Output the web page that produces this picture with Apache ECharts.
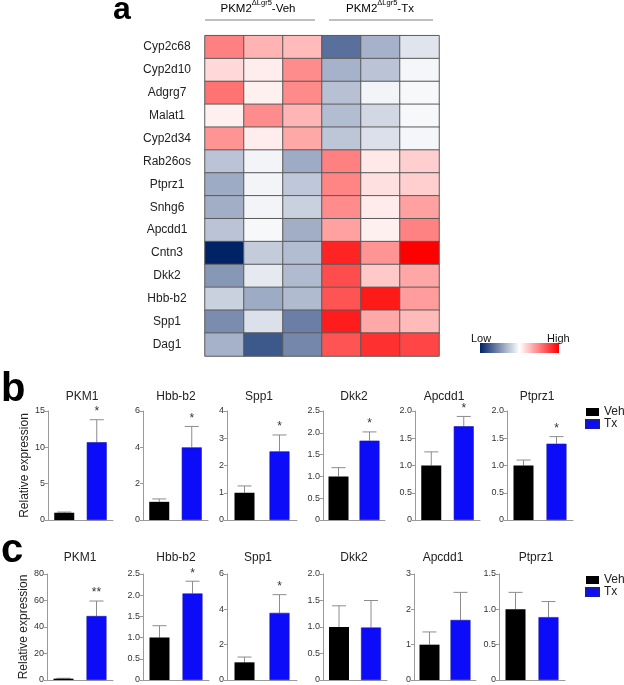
<!DOCTYPE html>
<html>
<head>
<meta charset="utf-8">
<title>PKM2 Lgr5 figure</title>
<script src="https://cdn.jsdelivr.net/npm/echarts@6/dist/echarts.min.js"></script>
<style>
  html, body { margin: 0; padding: 0; background: #fff; }
  #chart { width: 624px; height: 685px; }
</style>
</head>
<body>
<div id="chart"></div>
<script>
// panel a - heatmap
const genes = ['Cyp2c68', 'Cyp2d10', 'Adgrg7', 'Malat1', 'Cyp2d34', 'Rab26os', 'Ptprz1',
  'Snhg6', 'Apcdd1', 'Cntn3', 'Dkk2', 'Hbb-b2', 'Spp1', 'Dag1']
const samples = ['Veh-1', 'Veh-2', 'Veh-3', 'Tx-1', 'Tx-2', 'Tx-3']
const heatRows = [
  [0.50, 0.30, 0.27, -0.65, -0.35, -0.12],
  [0.15, 0.07, 0.45, -0.35, -0.27, -0.04],
  [0.55, 0.06, 0.46, -0.28, -0.05, -0.03],
  [0.06, 0.45, 0.29, -0.30, -0.18, -0.03],
  [0.42, 0.07, 0.34, -0.26, -0.14, -0.04],
  [-0.27, -0.05, -0.38, 0.50, 0.09, 0.19],
  [-0.38, -0.05, -0.25, 0.48, 0.12, 0.19],
  [-0.37, -0.05, -0.21, 0.45, 0.08, 0.37],
  [-0.27, -0.03, -0.37, 0.37, 0.06, 0.49],
  [-1.00, -0.23, -0.30, 0.86, 0.42, 1.00],
  [-0.47, -0.10, -0.31, 0.70, 0.21, 0.35],
  [-0.21, -0.38, -0.31, 0.67, 0.90, 0.39],
  [-0.52, -0.14, -0.58, 0.89, 0.34, 0.27],
  [-0.35, -0.76, -0.54, 0.67, 0.81, 0.73]
]

// panels b / c - qPCR bars
const qGenes = ['PKM1', 'Hbb-b2', 'Spp1', 'Dkk2', 'Apcdd1', 'Ptprz1']
const groups = ['Veh', 'Tx']

const bVeh = [1.0, 1.0, 1.0, 1.0, 1.0, 1.0]
const bVehTop = [1.1, 1.16, 1.25, 1.2, 1.25, 1.1]
const bTx = [10.7, 4.0, 2.52, 1.82, 1.72, 1.4]
const bTxTop = [13.8, 5.15, 3.12, 2.02, 1.9, 1.53]
const bMax = [15, 6, 4, 2.5, 2.0, 2.0]
const bStep = [5, 2, 1, 0.5, 0.5, 0.5]
const bStars = ['*', '*', '*', '*', '*', '*']

const cVeh = [1.0, 1.0, 1.0, 1.0, 1.0, 1.0]
const cVehTop = [1.3, 1.28, 1.3, 1.4, 1.36, 1.24]
const cTx = [48.3, 2.04, 3.8, 0.99, 1.7, 0.89]
const cTxTop = [59.6, 2.33, 4.83, 1.5, 2.48, 1.11]
const cMax = [80, 2.5, 6, 2.0, 3, 1.5]
const cStep = [20, 0.5, 2, 0.5, 1, 0.5]
const cStars = ['**', '*', '*', '', '', '']

const FONT = 'Liberation Sans, Arial, sans-serif'
const AXIS = '#9a9a9a'

const myChart = echarts.init(document.getElementById('chart'))

const grids = [{ left: 205, top: 35.7, width: 234, height: 320.3 }]
const xAxes = [{
  gridIndex: 0, type: 'category', data: samples,
  axisLine: { show: false }, axisTick: { show: false }, axisLabel: { show: false }
}]
const yAxes = [{
  gridIndex: 0, type: 'category', data: genes, inverse: true,
  axisLine: { show: false }, axisTick: { show: false },
  axisLabel: { fontSize: 12, color: '#222', fontFamily: FONT, align: 'center', margin: 38 }
}]
const heatData = []
heatRows.forEach((row, r) => {
  row.forEach((v, c) => heatData.push([c, r, v]))
})
const series = [{
  type: 'heatmap', xAxisIndex: 0, yAxisIndex: 0, data: heatData,
  itemStyle: { borderColor: '#5a5a5a', borderWidth: 1 },
  emphasis: { disabled: true }
}]
const titles = []

// layout of the 12 small bar charts
const panels = [
  {
    top: 411, height: 109, titleY: 391,
    left: [48, 143, 227, 323, 415, 507], width: [65, 65, 70, 62, 65, 66],
    titleX: [82, 176, 259, 354, 444, 537],
    veh: bVeh, vehTop: bVehTop, tx: bTx, txTop: bTxTop, max: bMax, step: bStep, stars: bStars
  },
  {
    top: 574, height: 106, titleY: 552,
    left: [47, 143, 227, 323, 414, 499], width: [66, 66, 70, 64, 62, 66],
    titleX: [80, 176, 258, 354, 443, 536],
    veh: cVeh, vehTop: cVehTop, tx: cTx, txTop: cTxTop, max: cMax, step: cStep, stars: cStars
  }
]

panels.forEach((p, pi) => {
  qGenes.forEach((g, i) => {
    const k = grids.length
    const step = p.step[i]
    grids.push({ left: p.left[i], top: p.top, width: p.width[i], height: p.height })
    xAxes.push({
      gridIndex: k, type: 'category', data: groups,
      axisLine: { lineStyle: { color: AXIS, width: 1 } },
      axisTick: { show: false }, axisLabel: { show: false }
    })
    yAxes.push({
      gridIndex: k, type: 'value', min: 0, max: p.max[i], interval: step,
      name: i === 0 ? 'Relative expression' : '',
      nameLocation: 'middle', nameGap: 14,
      nameTextStyle: { fontSize: 12, color: '#222', fontFamily: FONT },
      axisLine: { show: true, lineStyle: { color: AXIS, width: 1 } },
      axisTick: { show: true, length: 3, lineStyle: { color: AXIS } },
      splitLine: { show: false },
      axisLabel: {
        fontSize: 9, color: '#333', fontFamily: FONT, margin: 3,
        formatter: v => (v === 0 ? '0' : (step < 1 ? v.toFixed(1) : String(v)))
      }
    })
    titles.push({
      text: g, left: p.titleX[i], top: p.titleY, textAlign: 'center', padding: 0,
      textStyle: { fontSize: 12, fontWeight: 'normal', color: '#222', fontFamily: FONT }
    })
    series.push({
      name: 'Veh', type: 'bar', xAxisIndex: k, yAxisIndex: k,
      barWidth: 20, barGap: '-100%', data: [p.veh[i], '-'],
      itemStyle: { color: '#000' }, emphasis: { disabled: true }
    })
    series.push({
      name: 'Tx', type: 'bar', xAxisIndex: k, yAxisIndex: k,
      barWidth: 20, barGap: '-100%', data: ['-', p.tx[i]],
      itemStyle: { color: '#0c0cf8', borderColor: '#1a1aa8', borderWidth: 0.6 },
      emphasis: { disabled: true }
    })
    const star = p.stars[i]
    series.push({
      name: 'err', type: 'custom', xAxisIndex: k, yAxisIndex: k,
      data: [[0, p.veh[i], p.vehTop[i]], [1, p.tx[i], p.txTop[i]]],
      encode: { x: 0, y: [1, 2] },
      z: 1,
      renderItem(params, api) {
        const base = api.coord([api.value(0), api.value(1)])
        const top = api.coord([api.value(0), api.value(2)])
        const st = { stroke: '#8c8c8c', lineWidth: 1 }
        const children = [
          { type: 'line', shape: { x1: base[0], y1: base[1], x2: top[0], y2: top[1] }, style: st },
          { type: 'line', shape: { x1: top[0] - 7, y1: top[1], x2: top[0] + 7, y2: top[1] }, style: st }
        ]
        if (params.dataIndex === 1 && star) {
          children.push({
            type: 'text', x: top[0], y: top[1] - 2,
            style: { text: star, fontSize: 12, fill: '#333', fontFamily: FONT, align: 'center', verticalAlign: 'bottom' }
          })
        }
        return { type: 'group', children }
      }
    })
  })
})

const headRich = {
  a: { fontSize: 11.5, color: '#333', fontFamily: FONT, lineHeight: 16, verticalAlign: 'bottom' },
  s: { fontSize: 7.5, color: '#333', fontFamily: FONT, lineHeight: 16, verticalAlign: 'top' }
}

const option = {
  animation: false,
  backgroundColor: '#fff',
  title: titles,
  grid: grids,
  xAxis: xAxes,
  yAxis: yAxes,
  visualMap: {
    show: false, seriesIndex: 0, min: -1, max: 1, calculable: false,
    inRange: { color: ['#002366', '#ffffff', '#ff0000'] }
  },
  legend: [
    {
      data: groups, orient: 'vertical', left: 585, top: 406, icon: 'rect',
      itemWidth: 13, itemHeight: 8, itemGap: 0, selectedMode: false, padding: 0,
      textStyle: { fontSize: 12, color: '#222', fontFamily: FONT, lineHeight: 10 }
    },
    {
      data: groups, orient: 'vertical', left: 585, top: 574, icon: 'rect',
      itemWidth: 13, itemHeight: 8, itemGap: 0, selectedMode: false, padding: 0,
      textStyle: { fontSize: 12, color: '#222', fontFamily: FONT, lineHeight: 10 }
    }
  ],
  graphic: [
    { type: 'text', x: 113, y: -6, style: { text: 'a', fontSize: 32, fontWeight: 'bold', fill: '#000', fontFamily: FONT } },
    { type: 'text', x: 1, y: 370, style: { text: 'b', fontSize: 40, fontWeight: 'bold', fill: '#000', fontFamily: FONT } },
    { type: 'text', x: 1, y: 531, style: { text: 'c', fontSize: 40, fontWeight: 'bold', fill: '#000', fontFamily: FONT } },
    { type: 'text', x: 258, y: 7, style: { text: '{a|PKM2}{s|ΔLgr5}{a|-Veh}', rich: headRich, align: 'center', verticalAlign: 'middle' } },
    { type: 'text', x: 380, y: 7, style: { text: '{a|PKM2}{s|ΔLgr5}{a|-Tx}', rich: headRich, align: 'center', verticalAlign: 'middle' } },
    { type: 'line', shape: { x1: 205, y1: 20, x2: 315, y2: 20 }, style: { stroke: '#aaa', lineWidth: 1.5 } },
    { type: 'line', shape: { x1: 329, y1: 20, x2: 433, y2: 20 }, style: { stroke: '#aaa', lineWidth: 1.5 } },
    {
      type: 'rect', shape: { x: 480, y: 343, width: 79, height: 10 },
      style: {
        fill: new echarts.graphic.LinearGradient(0, 0, 1, 0, [
          { offset: 0, color: '#002366' },
          { offset: 0.5, color: '#ffffff' },
          { offset: 1, color: '#ff0000' }
        ])
      }
    },
    { type: 'text', x: 471, y: 333, style: { text: 'Low', fontSize: 11, fill: '#111', fontFamily: FONT } },
    { type: 'text', x: 547, y: 333, style: { text: 'High', fontSize: 11, fill: '#111', fontFamily: FONT } }
  ],
  series: series
}

myChart.setOption(option)
</script>
</body>
</html>
